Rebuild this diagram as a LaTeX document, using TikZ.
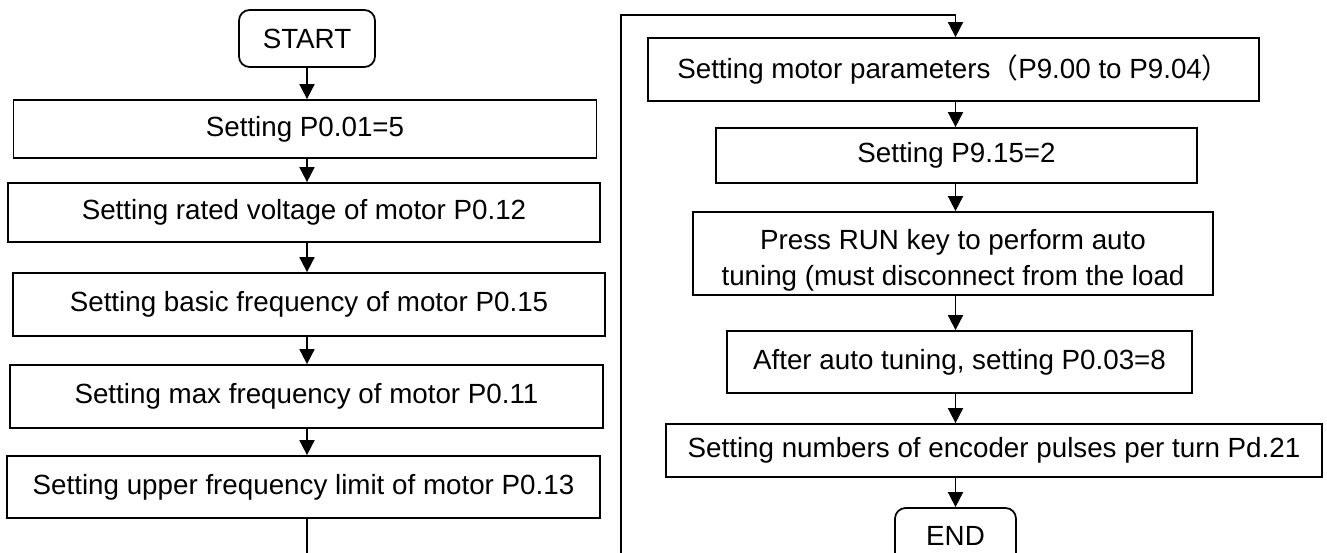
\documentclass[tikz,border=0pt]{standalone}
\usepackage{fontspec}
\setmainfont{Liberation Sans}
\newfontfamily\cjkfont{Noto Sans CJK SC}
\usetikzlibrary{arrows.meta}

\begin{document}
\begin{tikzpicture}[x=0.02cm,y=-0.02cm,
	box/.style={draw,line width=1pt,inner sep=2pt,align=center,font=\fontsize{15.8}{20.5}\selectfont},
	ends/.style={box,rounded corners=6pt},
	arr/.style={-{Triangle[length=0.3cm,width=0.3cm]},line width=1pt}]
		\clip (0,0) rectangle (1327,553);
		\node[ends,minimum width=2.72cm,minimum height=1.14cm] (start) at (307,38.5) {START};
		\node[box,minimum width=11.66cm,minimum height=1.16cm] (b1) at (305,129) {Setting P0.01=5};
		\node[box,minimum width=11.84cm,minimum height=1.18cm] (b2) at (304,212.5) {Setting rated voltage of motor P0.12};
		\node[box,minimum width=11.84cm,minimum height=1.26cm] (b3) at (309,304.5) {Setting basic frequency of motor P0.15};
		\node[box,minimum width=11.86cm,minimum height=1.26cm] (b4) at (306.5,396.5) {Setting max frequency of motor P0.11};
		\node[box,minimum width=11.86cm,minimum height=1.24cm] (b5) at (303.5,487) {Setting upper frequency limit of motor P0.13};
		\node[box,minimum width=12.22cm,minimum height=1.26cm] (b6) at (953.5,69.5) {Setting motor parameters{\cjkfont （}P9.00 to P9.04{\cjkfont ）}};
		\node[box,minimum width=9.62cm,minimum height=1.10cm] (b7) at (956.5,155.5) {Setting P9.15=2};
		\node[box,minimum width=10.40cm,minimum height=1.66cm] (b8) at (953,253.5) {\rule{0pt}{0.66cm}Press RUN key to perform auto\\tuning (must disconnect from the load};
		\node[box,minimum width=9.30cm,minimum height=1.24cm] (b9) at (959.5,362) {After auto tuning, setting P0.03=8};
		\node[box,minimum width=13.12cm,minimum height=1.06cm] (b10) at (994,450.5) {Setting numbers of encoder pulses per turn Pd.21};
		\node[ends,minimum width=2.42cm,minimum height=1.12cm] (end) at (955.5,536) {END};
		\coordinate (brkL) at (307,553);
		\coordinate (brkR) at (621,553);
		\coordinate (topR) at (621,15);
		\draw[arr] (start.south) -- (b1.north -| start);
		\draw[arr] (b1.south -| start) -- (b2.north -| start);
		\draw[arr] (b2.south -| start) -- (b3.north -| start);
		\draw[arr] (b3.south -| start) -- (b4.north -| start);
		\draw[arr] (b4.south -| start) -- (b5.north -| start);
		\draw[line width=1pt] (b5.south -| start) -- (brkL);
		\draw[arr] (brkR) -- (topR) -| (b6.north -| end);
		\draw[arr] (b6.south -| end) -- (b7.north -| end);
		\draw[arr] (b7.south -| end) -- (b8.north -| end);
		\draw[arr] (b8.south -| end) -- (b9.north -| end);
		\draw[arr] (b9.south -| end) -- (b10.north -| end);
		\draw[arr] (b10.south -| end) -- (end.north);
\end{tikzpicture}
\end{document}
